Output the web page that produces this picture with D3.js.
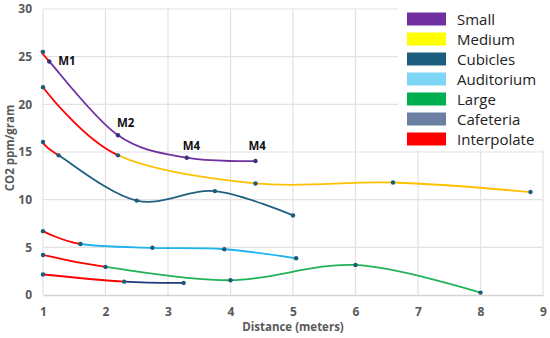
<!DOCTYPE html>
<html>
<head>
<meta charset="utf-8">
<script src="https://cdn.jsdelivr.net/npm/d3@7"></script>
<style>
  body { margin: 0; background: #fff; }
  text { font-family: "Open Sans", "Noto Sans", sans-serif; }
</style>
</head>
<body>
<div id="chart"></div>
<script>
// series names and colours
var seriesNames = ["Small", "Medium", "Cubicles", "Auditorium", "Large", "Cafeteria"];
var lineColors = ["#7030a0", "#ffc000", "#1f5f7f", "#1fb4ee", "#1fb356", "#1f3a7a"];
var legendNames = ["Small", "Medium", "Cubicles", "Auditorium", "Large", "Cafeteria", "Interpolate"];
var legendColors = ["#7030a0", "#ffff00", "#1b5e7e", "#7dd6f5", "#00b050", "#6b7fa3", "#ff0000"];

// interpolated value at 1 m for each series
var interpX = 1;
var interpY = [25.5, 21.8, 16.05, 6.7, 4.2, 2.15];

// measured points (distance, CO2)
var smallX = [1.1, 2.2, 3.3, 4.4];
var smallY = [24.5, 16.75, 14.4, 14.05];
var mediumX = [2.2, 4.4, 6.6, 8.8];
var mediumY = [14.65, 11.7, 11.8, 10.8];
var cubiclesX = [1.25, 2.5, 3.75, 5];
var cubiclesY = [14.65, 9.9, 10.9, 8.35];
var auditoriumX = [1.6, 2.75, 3.9, 5.05];
var auditoriumY = [5.35, 4.95, 4.8, 3.85];
var largeX = [2, 4, 6, 8];
var largeY = [2.95, 1.55, 3.15, 0.25];
var cafeteriaX = [2.3, 3.25];
var cafeteriaY = [1.4, 1.27];

var allX = [smallX, mediumX, cubiclesX, auditoriumX, largeX, cafeteriaX];
var allY = [smallY, mediumY, cubiclesY, auditoriumY, largeY, cafeteriaY];

// point labels on the Small series
var smallLabels = ["M1", "M2", "M4", "M4"];

var xTicks = [1, 2, 3, 4, 5, 6, 7, 8, 9];
var yTicks = [0, 5, 10, 15, 20, 25, 30];

var svgWidth = 550;
var svgHeight = 338;
var margin = { top: 9, right: 7, bottom: 43, left: 43 };
var width = svgWidth - margin.left - margin.right;
var height = svgHeight - margin.top - margin.bottom;

var svg = d3.select("#chart").append("svg")
  .attr("width", svgWidth)
  .attr("height", svgHeight);

var chartGroup = svg.append("g")
  .attr("transform", `translate(${margin.left}, ${margin.top})`);

var xScale = d3.scaleLinear().domain([1, 9]).range([0, width]);
var yScale = d3.scaleLinear().domain([0, 30]).range([height, 0]);

// grid
chartGroup.append("g").selectAll("line")
  .data(yTicks.filter(d => d > 0))
  .enter().append("line")
  .attr("x1", 0).attr("x2", width)
  .attr("y1", d => yScale(d)).attr("y2", d => yScale(d))
  .attr("stroke", "#e2e2e2").attr("stroke-width", 1.2);

chartGroup.append("g").selectAll("line")
  .data(xTicks)
  .enter().append("line")
  .attr("x1", d => xScale(d)).attr("x2", d => xScale(d))
  .attr("y1", 0).attr("y2", height)
  .attr("stroke", "#e2e2e2").attr("stroke-width", 1.2);

// axes
var bottomAxis = d3.axisBottom(xScale).tickValues(xTicks).tickSize(0).tickPadding(12);
var leftAxis = d3.axisLeft(yScale).tickValues(yTicks).tickSize(0).tickPadding(11);

var xAxis = chartGroup.append("g")
  .attr("transform", `translate(0, ${height})`)
  .call(bottomAxis);
xAxis.select(".domain").attr("stroke", "#d4d4d4").attr("stroke-width", 1.5);

var yAxis = chartGroup.append("g").call(leftAxis);
yAxis.select(".domain").remove();

chartGroup.selectAll(".tick text")
  .attr("fill", "#595959")
  .style("font-size", "12px")
  .style("font-weight", "bold");

// axis titles
chartGroup.append("text")
  .attr("x", xScale(5))
  .attr("y", height + 36)
  .attr("text-anchor", "middle")
  .attr("fill", "#595959")
  .style("font-size", "11.5px")
  .style("font-weight", "bold")
  .text("Distance (meters)");

chartGroup.append("text")
  .attr("transform", "rotate(-90)")
  .attr("x", -(height / 2) + 4)
  .attr("y", -29)
  .attr("text-anchor", "middle")
  .attr("fill", "#595959")
  .style("font-size", "11.5px")
  .style("font-weight", "bold")
  .text("CO2 ppm/gram");

var line = d3.line()
  .x(d => xScale(d[0]))
  .y(d => yScale(d[1]))
  .curve(d3.curveCatmullRom.alpha(0));

var defs = svg.append("defs");

// each series: red interpolation part then measured part
seriesNames.forEach(function(name, i) {
  var pts = [[interpX, interpY[i]]].concat(allX[i].map((x, j) => [x, allY[i][j]]));
  var cut = xScale(allX[i][0]);

  defs.append("clipPath").attr("id", "left" + i)
    .append("rect").attr("x", -5).attr("y", -20).attr("width", cut + 5).attr("height", height + 40);
  defs.append("clipPath").attr("id", "right" + i)
    .append("rect").attr("x", cut).attr("y", -20).attr("width", width - cut + 10).attr("height", height + 40);

  chartGroup.append("path")
    .datum(pts)
    .attr("d", line)
    .attr("fill", "none")
    .attr("stroke", lineColors[i])
    .attr("stroke-width", 1.8)
    .attr("clip-path", `url(#right${i})`);

  chartGroup.append("path")
    .datum(pts)
    .attr("d", line)
    .attr("fill", "none")
    .attr("stroke", "#ff0000")
    .attr("stroke-width", 1.8)
    .attr("clip-path", `url(#left${i})`);

  chartGroup.append("g").selectAll("circle")
    .data(pts)
    .enter().append("circle")
    .attr("cx", d => xScale(d[0]))
    .attr("cy", d => yScale(d[1]))
    .attr("r", 2.2)
    .attr("fill", (d, j) => (i == 0 && j > 0) ? "#35347a" : "#1b5a78");
});

// M labels
var labelOffsets = [[9, 4], [-1, -8], [-4, -8], [-7, -11]];
chartGroup.append("g").selectAll("text")
  .data(smallLabels)
  .enter().append("text")
  .attr("x", (d, j) => xScale(smallX[j]) + labelOffsets[j][0])
  .attr("y", (d, j) => yScale(smallY[j]) + labelOffsets[j][1])
  .attr("fill", "#111")
  .style("font-size", "11.5px")
  .style("font-weight", "bold")
  .text(d => d);

// legend
var legend = svg.append("g");
legend.append("rect")
  .attr("x", 398).attr("y", 0)
  .attr("width", 152).attr("height", 150)
  .attr("fill", "#fff");

var legendRows = legend.selectAll("g.row")
  .data(legendNames)
  .enter().append("g")
  .attr("class", "row")
  .attr("transform", (d, i) => `translate(407, ${12.5 + i * 20})`);

legendRows.append("rect")
  .attr("width", 39).attr("height", 13)
  .attr("fill", (d, i) => legendColors[i]);

legendRows.append("text")
  .attr("x", 50).attr("y", 12)
  .attr("fill", "#222")
  .style("font-size", "15px")
  .text(d => d);
</script>
</body>
</html>
